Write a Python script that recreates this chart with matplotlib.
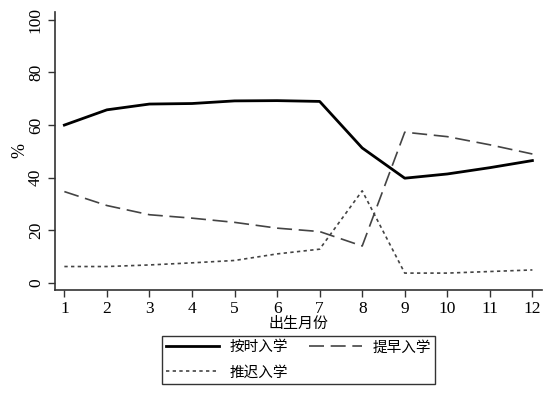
import matplotlib
matplotlib.use("Agg")
import matplotlib.pyplot as plt

months = [1, 2, 3, 4, 5, 6, 7, 8, 9, 10, 11, 12]
on_time = [60.0, 65.8, 68.0, 68.2, 69.2, 69.3, 69.0, 51.3, 39.8, 41.4, 43.8, 46.5]
early = [34.7, 29.4, 25.9, 24.6, 23.0, 20.8, 19.5, 14.0, 57.3, 55.6, 52.5, 49.0]
late = [6.2, 6.2, 6.8, 7.6, 8.5, 11.0, 12.8, 35.0, 3.7, 3.7, 4.3, 4.9]
yticks = [0, 20, 40, 60, 80, 100]
labels = ["按时入学", "提早入学", "推迟入学"]

cjk = ["Noto Sans CJK SC", "DejaVu Sans"]
serif = "Liberation Serif"

fig = plt.figure(figsize=(5.5, 4.01), dpi=100)
ax = fig.add_axes([0.1, 0.277, 0.885, 0.693])

l1, = ax.plot(months, on_time, color="black", lw=2.0, ls="-")
l2, = ax.plot(months, early, color="#444444", lw=1.2, ls=(0, (9, 4)))
l3, = ax.plot(months, late, color="#444444", lw=1.2, ls=(0, (2, 2)))

ax.set_xlim(0.78, 12.22)
ax.set_ylim(-2.7, 103)
ax.set_xticks(months)
ax.set_yticks(yticks)
ax.set_xticklabels([str(m) for m in months], fontfamily=serif, fontsize=12.5)
ax.set_yticklabels([str(v) for v in yticks], fontfamily=serif, fontsize=12.5,
                   rotation=90, va="center")
ax.tick_params(direction="out", length=5, width=1, color="#333333", pad=3)
for s in ["top", "right"]:
    ax.spines[s].set_visible(False)
for s in ["left", "bottom"]:
    ax.spines[s].set_color("#333333")
    ax.spines[s].set_linewidth(1.2)

ax.set_ylabel("%", fontfamily=serif, fontsize=13, labelpad=0)
ax.set_xlabel("出生月份", family=cjk, fontsize=10.8, labelpad=0)

leg = fig.legend([l1, l3, l2], [labels[0], labels[2], labels[1]], ncol=2,
                 loc="upper left",
                 bbox_to_anchor=(162 / 550, 1 - 336 / 401),
                 borderaxespad=0,
                 prop={"family": cjk, "size": 10.5}, frameon=True,
                 fancybox=False, handlelength=3.6, columnspacing=1.5,
                 borderpad=0.3, labelspacing=0.75, handletextpad=0.7,
                 edgecolor="black")
leg.get_frame().set_linewidth(1.0)

fig.savefig("out.png", dpi=100)
